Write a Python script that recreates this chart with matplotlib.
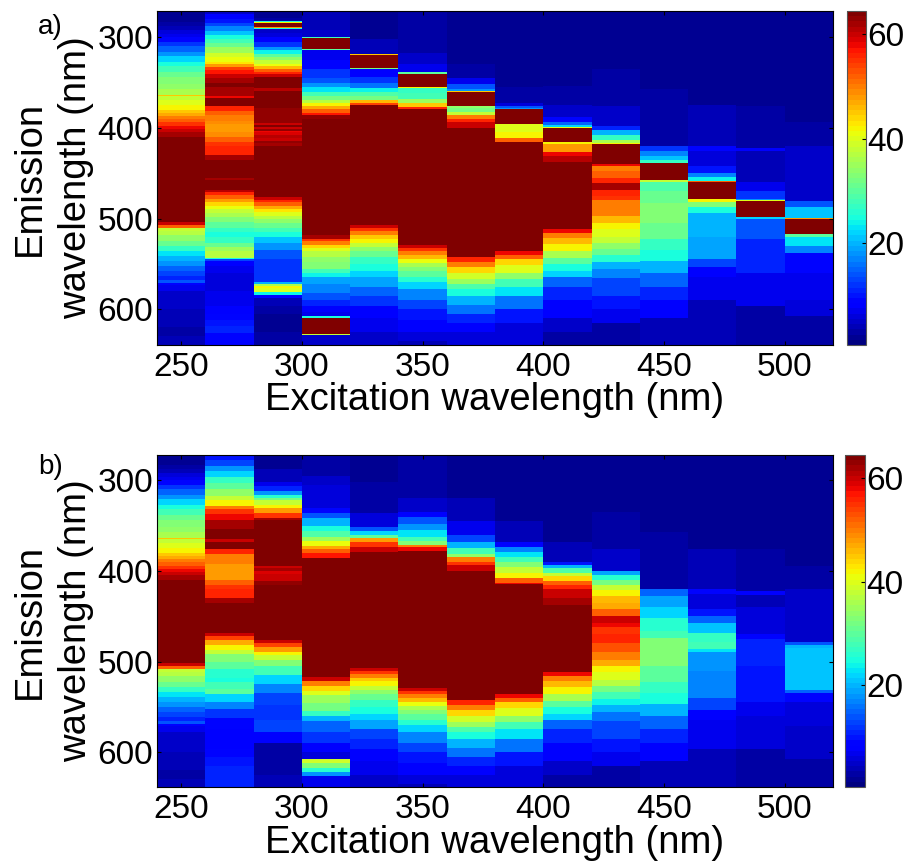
import matplotlib
matplotlib.use('Agg')
import matplotlib.pyplot as plot
from matplotlib.colors import Normalize

plot.rcParams['font.family'] = ['Liberation Sans', 'DejaVu Sans']

excitation_edges = [240, 260, 280, 300, 320, 340, 360, 380, 400, 420, 440, 460, 480, 500, 520]
emission_start = 271

# one list per excitation column: (end of the emission band in nm, intensity read in that band)
a_250 = [(283, 1.5), (287, 2.5), (292, 3.5), (296, 5.5), (300, 7), (305, 9), (310, 12), (316, 15), (321, 18), (327, 22), (332, 25), (338, 28), (344, 31), (351, 33), (357, 34), (364, 36), (365, 45), (369, 38), (375, 40), (380, 42), (383, 45), (387, 47), (390, 50), (394, 52), (398, 55), (401, 58), (405, 60), (410, 62), (504, 65), (507, 60), (510, 52), (514, 38), (518, 37), (525, 34), (530, 31), (536, 27), (541, 23), (547, 20), (552, 18), (558, 15), (563, 13), (568, 11), (571, 14), (573, 8), (580, 7), (600, 5), (610, 4), (620, 3.5), (630, 3), (640, 4)]
a_270 = [(274, 5), (280, 8), (284, 10), (288, 13), (293, 17), (298, 21), (302, 25), (306, 28), (311, 31), (317, 35), (322, 39), (327, 41), (330, 43), (333, 48), (336, 54), (340, 57), (345, 60), (350, 62), (355, 64), (365, 62), (367, 58), (376, 64), (381, 56), (386, 52), (392, 50), (396, 49), (404, 48), (410, 49), (416, 52), (420, 55), (430, 56), (435, 62), (455, 65), (457, 62), (468, 64), (471, 61), (474, 56), (478, 52), (482, 48), (486, 44), (490, 41), (494, 38), (498, 36), (504, 33), (510, 30), (515, 27), (520, 25), (527, 27), (531, 31), (536, 35), (543, 37), (545, 25), (547, 13), (552, 8), (560, 6.5), (580, 6), (597, 6.5), (605, 8), (612, 9), (619, 10), (626, 11), (634, 9), (640, 8)]
a_290 = [(279, 2), (282, 3), (283, 25), (284, 42), (289, 65), (290, 48), (291, 25), (295, 5), (300, 6), (305, 8), (311, 12), (314, 18), (318, 24), (322, 30), (325, 34), (329, 38), (332, 41), (335, 46), (338, 52), (341, 56), (344, 60), (356, 64), (359, 61), (378, 64), (395, 63), (397, 60), (399, 64), (401, 60), (403, 63), (405, 58), (408, 59), (411, 61), (414, 60), (417, 63), (420, 62), (476, 65), (479, 60), (482, 56), (486, 52), (489, 47), (493, 43), (497, 40), (501, 37), (505, 34), (510, 31), (515, 28), (520, 25), (527, 21), (535, 18), (545, 14), (555, 12), (570, 12), (572, 20), (574, 36), (577, 42), (581, 40), (584, 24), (588, 8), (597, 4), (605, 2.5), (625, 2), (640, 2.5)]
a_310 = [(292, 4), (300, 5), (301, 28), (313, 65), (314, 30), (325, 7), (335, 9), (345, 12), (350, 14), (355, 18), (360, 23), (365, 28), (369, 32), (373, 37), (376, 42), (379, 47), (383, 52), (386, 57), (390, 63), (518, 65), (522, 62), (525, 55), (529, 50), (532, 44), (536, 40), (542, 37), (548, 34), (556, 33), (560, 28), (565, 24), (572, 19), (582, 17), (590, 14), (597, 11), (603, 8), (608, 7), (610, 25), (627, 65), (629, 38), (640, 5)]
a_330 = [(302, 2), (318, 4), (319, 45), (334, 65), (335, 32), (344, 8), (350, 12), (356, 16), (360, 24), (365, 29), (369, 32), (372, 46), (375, 54), (507, 65), (510, 60), (514, 55), (518, 50), (522, 45), (527, 42), (531, 38), (536, 34), (542, 31), (550, 27), (558, 25), (565, 22), (575, 19), (585, 15), (597, 12), (610, 8), (625, 7), (640, 5)]
a_350 = [(317, 2.5), (330, 5), (338, 7), (340, 30), (355, 65), (356, 42), (362, 27), (368, 28), (373, 35), (377, 45), (379, 56), (529, 65), (532, 60), (536, 55), (540, 50), (545, 46), (549, 41), (553, 36), (558, 33), (564, 30), (570, 26), (578, 22), (590, 17), (600, 13), (612, 10), (625, 8), (635, 6), (640, 4)]
a_370 = [(330, 1.5), (345, 3), (352, 7), (357, 14), (359, 18), (360, 45), (376, 65), (378, 34), (382, 32), (386, 38), (390, 50), (394, 56), (400, 60), (542, 65), (548, 56), (553, 50), (560, 44), (567, 39), (572, 35), (578, 29), (585, 25), (595, 20), (605, 16), (615, 11), (625, 8), (640, 6)]
a_390 = [(355, 1.5), (372, 3), (376, 6), (378, 14), (379, 18), (396, 65), (404, 40), (411, 42), (416, 52), (536, 65), (540, 58), (545, 52), (551, 44), (560, 40), (567, 34), (575, 28), (585, 23), (600, 16), (615, 10), (640, 6)]
a_410 = [(354, 1.5), (375, 3), (388, 5), (394, 9), (397, 15), (399, 22), (400, 40), (416, 65), (418, 42), (427, 48), (431, 58), (438, 61), (511, 65), (516, 58), (521, 50), (528, 46), (536, 42), (544, 36), (550, 30), (558, 25), (565, 22), (575, 15), (590, 11), (610, 8), (625, 5), (640, 3)]
a_430 = [(335, 1.5), (376, 3), (398, 5), (402, 11), (408, 20), (413, 27), (417, 36), (418, 42), (440, 65), (442, 58), (448, 50), (455, 52), (461, 56), (468, 62), (475, 56), (480, 55), (488, 50), (497, 50), (505, 46), (512, 42), (520, 40), (527, 38), (534, 34), (540, 31), (548, 26), (556, 20), (566, 17), (585, 13), (600, 10), (615, 7), (640, 3)]
a_450 = [(357, 1.5), (420, 3), (425, 12), (431, 17), (435, 21), (439, 27), (458, 65), (460, 38), (470, 29), (483, 31), (505, 33), (523, 31), (535, 27), (547, 25), (560, 20), (575, 15), (590, 11), (610, 8), (640, 4)]
a_470 = [(375, 1.5), (420, 3.5), (426, 9), (442, 6), (450, 10), (454, 17), (459, 24), (460, 52), (478, 65), (482, 42), (487, 33), (494, 25), (520, 20), (545, 19), (553, 13), (565, 8), (590, 7), (640, 4)]
a_490 = [(376, 1.5), (422, 2.5), (426, 8), (460, 4), (470, 7), (478, 12), (480, 18), (481, 40), (498, 65), (500, 22), (523, 14), (560, 11), (597, 7), (640, 3)]
a_510 = [(394, 1.5), (420, 3), (440, 4.5), (481, 5), (487, 14), (499, 21), (500, 48), (517, 65), (520, 30), (530, 23), (538, 17), (560, 9), (590, 7), (608, 6), (640, 3)]

b_250 = [(283, 1.5), (287, 2.5), (292, 3.5), (296, 5.5), (300, 7), (305, 9), (310, 12), (316, 15), (321, 18), (327, 22), (332, 25), (338, 28), (344, 31), (351, 33), (357, 34), (364, 36), (365, 45), (369, 38), (375, 40), (380, 42), (383, 45), (387, 47), (390, 50), (394, 52), (398, 55), (401, 58), (405, 60), (410, 62), (502, 65), (505, 60), (508, 52), (512, 38), (516, 37), (523, 34), (528, 31), (534, 27), (539, 23), (545, 20), (550, 18), (556, 15), (561, 13), (566, 11), (569, 14), (571, 8), (578, 7), (600, 5), (610, 4), (620, 3.5), (630, 3), (640, 4)]
b_270 = [(277, 10), (284, 13), (290, 18), (296, 22), (303, 27), (310, 30), (317, 34), (322, 38), (328, 42), (332, 50), (337, 55), (344, 58), (354, 62), (365, 64), (368, 60), (376, 64), (381, 56), (392, 50), (410, 48), (416, 52), (420, 55), (430, 56), (435, 62), (468, 65), (472, 60), (476, 54), (482, 47), (487, 42), (492, 38), (500, 33), (508, 30), (518, 26), (523, 25), (530, 28), (536, 30), (545, 22), (552, 17), (562, 12), (575, 9), (597, 8), (605, 9), (615, 10), (640, 11)]
b_290 = [(288, 2), (302, 4), (306, 7), (312, 11), (316, 18), (319, 26), (322, 32), (327, 38), (331, 42), (336, 48), (341, 55), (344, 62), (394, 64), (397, 60), (400, 62), (403, 59), (411, 60), (416, 63), (476, 65), (480, 60), (484, 54), (489, 48), (493, 42), (498, 38), (505, 33), (515, 28), (525, 22), (535, 17), (548, 13), (565, 12), (578, 13), (590, 8), (605, 3), (625, 3), (640, 3.5)]
b_310 = [(295, 3), (305, 5), (330, 6), (336, 9), (342, 14), (350, 20), (356, 25), (362, 29), (367, 35), (372, 41), (376, 47), (380, 52), (386, 57), (517, 65), (522, 60), (527, 50), (532, 44), (537, 40), (546, 35), (555, 32), (560, 27), (566, 20), (578, 15), (590, 12), (600, 8), (608, 6), (612, 39), (618, 33), (622, 26), (626, 18), (640, 7)]
b_330 = [(302, 2), (336, 3), (352, 6), (356, 14), (360, 22), (364, 30), (368, 48), (374, 55), (379, 60), (507, 65), (510, 60), (514, 55), (518, 50), (522, 45), (527, 42), (531, 38), (536, 34), (542, 31), (550, 27), (558, 25), (565, 22), (575, 19), (585, 13), (597, 11), (610, 8), (625, 7), (640, 5)]
b_350 = [(320, 2.5), (335, 5), (340, 8), (348, 14), (355, 18), (362, 23), (367, 28), (371, 33), (374, 50), (378, 58), (529, 65), (532, 60), (536, 55), (540, 50), (545, 46), (549, 41), (553, 36), (558, 33), (564, 30), (570, 26), (578, 22), (590, 17), (600, 13), (612, 10), (625, 8), (635, 6), (640, 4)]
b_370 = [(320, 1.5), (345, 4), (360, 7), (368, 13), (375, 20), (381, 28), (385, 34), (390, 50), (393, 55), (400, 60), (542, 65), (548, 56), (553, 50), (560, 44), (567, 39), (572, 35), (578, 29), (585, 25), (595, 20), (605, 16), (615, 11), (625, 8), (640, 6)]
b_390 = [(345, 1.5), (368, 4), (374, 9), (379, 17), (385, 23), (390, 28), (396, 33), (402, 38), (408, 42), (413, 52), (414, 58), (536, 65), (540, 58), (545, 52), (551, 44), (560, 40), (567, 34), (575, 28), (585, 23), (600, 16), (615, 10), (640, 6)]
b_410 = [(368, 1.5), (390, 4), (393, 10), (397, 20), (402, 29), (406, 38), (411, 44), (415, 52), (420, 56), (430, 60), (438, 62), (511, 65), (516, 58), (521, 50), (528, 46), (536, 42), (544, 36), (550, 30), (558, 25), (565, 22), (575, 15), (590, 11), (610, 8), (625, 5), (640, 3)]
b_430 = [(335, 1.5), (376, 3), (400, 5), (404, 19), (410, 26), (415, 32), (421, 38), (428, 42), (435, 46), (442, 47), (450, 52), (457, 60), (462, 58), (470, 55), (480, 56), (490, 53), (498, 50), (505, 47), (512, 42), (520, 40), (527, 37), (534, 32), (541, 28), (548, 24), (556, 20), (566, 16), (585, 13), (600, 10), (615, 7), (640, 3)]
b_450 = [(357, 1.5), (420, 3), (428, 15), (440, 19), (452, 22), (466, 26), (474, 28), (480, 33), (505, 33), (523, 30), (535, 27), (547, 25), (560, 20), (575, 15), (590, 11), (610, 8), (640, 4)]
b_470 = [(376, 1.5), (420, 3.5), (425, 9), (442, 6), (450, 10), (458, 15), (468, 21), (478, 27), (486, 28), (490, 23), (510, 18), (540, 17), (553, 13), (565, 8), (597, 7), (640, 4)]
b_490 = [(376, 1.5), (422, 2.5), (426, 8), (440, 4), (470, 5.5), (475, 9), (505, 11), (545, 10), (560, 7), (597, 6), (640, 3)]
b_510 = [(394, 1.5), (420, 3), (478, 5), (482, 14), (485, 20), (531, 21), (535, 15), (545, 9), (571, 6), (608, 5), (640, 3)]

a_columns = [a_250, a_270, a_290, a_310, a_330, a_350, a_370, a_390, a_410, a_430, a_450, a_470, a_490, a_510]
b_columns = [b_250, b_270, b_290, b_310, b_330, b_350, b_370, b_390, b_410, b_430, b_450, b_470, b_490, b_510]

x_ticks = [250, 300, 350, 400, 450, 500]
y_ticks = [300, 400, 500, 600]
cbar_ticks = [20, 40, 60]

W, H = 910.0, 866.0
jet = plot.get_cmap('jet', 64)
norm = Normalize(0.4, 64.5)


def px_axes(x0, y0, x1, y1):
    return fig.add_axes([x0 / W, 1 - y1 / H, (x1 - x0) / W, (y1 - y0) / H])


def draw_panel(box, cbar_x, columns, ylim, letter, letter_y, xlabel_y):
    ax = px_axes(*box)
    for i, col in enumerate(columns):
        em = [emission_start] + [p[0] for p in col]
        c = [[p[1]] for p in col]
        m = ax.pcolormesh(excitation_edges[i:i + 2], em, c, cmap=jet, norm=norm, shading='flat')
    ax.set_xlim(240, 520)
    ax.set_ylim(*ylim)
    ax.set_xticks(x_ticks)
    ax.set_yticks(y_ticks)
    ax.tick_params(direction='in', length=3, width=0.8, top=True, right=True, labelsize=24)
    ax.tick_params(axis='x', pad=5)
    ax.tick_params(axis='y', pad=3)
    ax.set_xlabel('Excitation wavelength (nm)', fontsize=27.5, va='center')
    ax.xaxis.set_label_coords(0.5, (box[3] - xlabel_y) / (box[3] - box[1]))
    for s in ax.spines.values():
        s.set_linewidth(0.8)
    mid = 1 - (box[1] + box[3]) / 2 / H
    fig.text(30 / W, mid, 'Emission', rotation=90, fontsize=27.5, ha='center', va='center')
    fig.text(76 / W, mid, 'wavelength (nm)', rotation=90, fontsize=27.5, ha='center', va='center')
    fig.text(38 / W, 1 - letter_y / H, letter, fontsize=20, ha='left', va='center')

    cax = px_axes(cbar_x[0], box[1], cbar_x[1], box[3])
    cb = fig.colorbar(m, cax=cax, ticks=cbar_ticks)
    cb.ax.tick_params(direction='in', length=3, width=0.8, labelsize=24, pad=1)
    cb.outline.set_edgecolor('#555555')
    cb.outline.set_linewidth(0.8)
    return ax


fig = plot.figure(figsize=(9.10, 8.66), dpi=100)

draw_panel((157, 11, 833, 345), (847, 866), a_columns, (639.5, 271), 'a)', 27, 400)
draw_panel((157, 455, 833, 787), (845, 865), b_columns, (638.5, 272), 'b)', 467, 843)

fig.savefig('out.png', dpi=100)
